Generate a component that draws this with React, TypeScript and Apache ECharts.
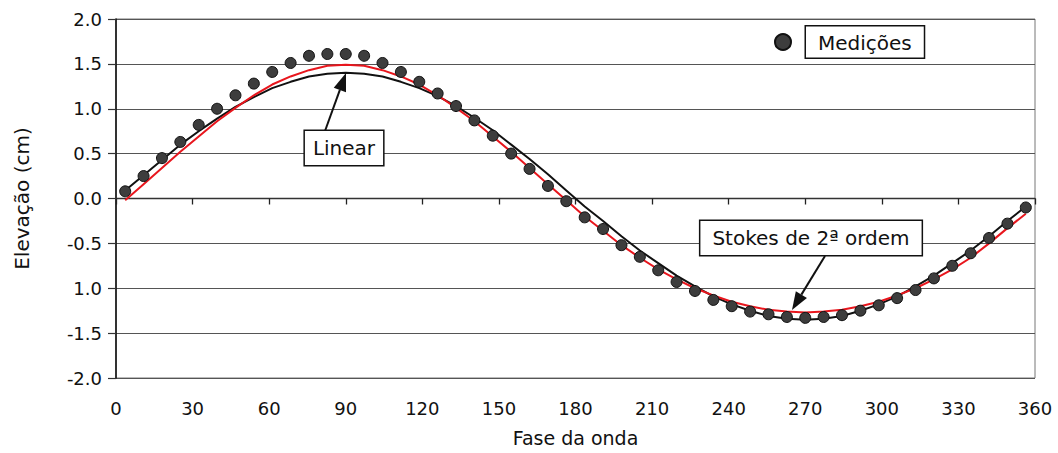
import React, { useEffect, useRef } from 'react';
import * as echarts from 'echarts';

// Wave phase (degrees) of each sample
const phases = [3.6, 10.8, 18, 25.2, 32.4, 39.6, 46.8, 54, 61.2, 68.4, 75.6, 82.8, 90, 97.2, 104.4, 111.6, 118.8, 126, 133.2, 140.4, 147.6, 154.8, 162, 169.2, 176.4, 183.6, 190.8, 198, 205.2, 212.4, 219.6, 226.8, 234, 241.2, 248.4, 255.6, 262.8, 270, 277.2, 284.4, 291.6, 298.8, 306, 313.2, 320.4, 327.6, 334.8, 342, 349.2, 356.4];

// Measured elevation (cm)
const measured = [0.08, 0.25, 0.45, 0.63, 0.82, 1.0, 1.15, 1.28, 1.41, 1.51, 1.59, 1.61, 1.61, 1.59, 1.51, 1.41, 1.3, 1.17, 1.03, 0.87, 0.7, 0.5, 0.33, 0.14, -0.03, -0.21, -0.34, -0.52, -0.65, -0.8, -0.93, -1.03, -1.13, -1.2, -1.26, -1.29, -1.32, -1.33, -1.32, -1.3, -1.25, -1.19, -1.11, -1.02, -0.89, -0.75, -0.61, -0.44, -0.28, -0.1];

// Linear theory (cm)
const linear = [0.09, 0.26, 0.43, 0.6, 0.75, 0.89, 1.02, 1.13, 1.23, 1.3, 1.36, 1.39, 1.4, 1.39, 1.36, 1.3, 1.23, 1.14, 1.03, 0.9, 0.76, 0.6, 0.44, 0.27, 0.09, -0.09, -0.25, -0.42, -0.58, -0.72, -0.86, -0.98, -1.09, -1.18, -1.25, -1.31, -1.34, -1.35, -1.34, -1.31, -1.25, -1.18, -1.09, -0.98, -0.86, -0.72, -0.58, -0.42, -0.25, -0.09];

// Stokes 2nd order (cm)
const stokes = [-0.02, 0.16, 0.34, 0.52, 0.69, 0.86, 1.01, 1.15, 1.27, 1.36, 1.43, 1.48, 1.49, 1.48, 1.43, 1.36, 1.27, 1.15, 1.01, 0.86, 0.69, 0.52, 0.34, 0.16, -0.02, -0.2, -0.36, -0.52, -0.66, -0.79, -0.9, -1.0, -1.08, -1.15, -1.2, -1.24, -1.26, -1.27, -1.26, -1.24, -1.2, -1.15, -1.08, -1.0, -0.9, -0.79, -0.66, -0.5, -0.33, -0.17];

// Y tick labels as printed (bottom to top)
const yTickLabels = ['-2.0', '-1.5', '1.0', '-0.5', '0.0', '0.5', '1.0', '1.5', '2.0'];
const yMin = -2;
const yMax = 2;
const yStep = 0.5;
const xMin = 0;
const xMax = 360;
const xStep = 30;

const FONT = '"DejaVu Sans", "Liberation Sans", Arial, sans-serif';

function arrow(x1: number, y1: number, x2: number, y2: number, headLen = 18, headW = 13) {
  const dx = x2 - x1;
  const dy = y2 - y1;
  const L = Math.hypot(dx, dy);
  const ux = dx / L;
  const uy = dy / L;
  const bx = x2 - ux * headLen;
  const by = y2 - uy * headLen;
  const px = -uy;
  const py = ux;
  return [
    { type: 'line', z: 20, shape: { x1, y1, x2: bx, y2: by }, style: { stroke: '#111', lineWidth: 2 } },
    {
      type: 'polygon', z: 20,
      shape: { points: [[x2, y2], [bx + (px * headW) / 2, by + (py * headW) / 2], [bx - (px * headW) / 2, by - (py * headW) / 2]] },
      style: { fill: '#111' },
    },
  ];
}

function labelBox(text: string, x: number, y: number, padX: number) {
  return {
    type: 'text', z: 30, x, y,
    style: {
      text, fill: '#111', font: `20px ${FONT}`, align: 'center', verticalAlign: 'middle',
      backgroundColor: '#fff', borderColor: '#111', borderWidth: 1.5, padding: [6, padX, 6, padX], lineHeight: 22,
    },
  };
}

export default function App() {
  const ref = useRef<HTMLDivElement>(null);
  useEffect(() => {
    if (!ref.current) return;
    const chart = echarts.init(ref.current, undefined, { renderer: 'svg' });
    const option: any = {
      animation: false,
      backgroundColor: '#fff',
      textStyle: { fontFamily: FONT },
      grid: { left: 116, right: 23, top: 19, bottom: 75, show: true, borderColor: '#777', borderWidth: 1, backgroundColor: 'transparent' },
      legend: {
        data: ['Medições'], left: 774, top: 25, padding: 0, icon: 'circle', itemWidth: 16, itemHeight: 16,
        formatter: '{g|}{t|{name}}',
        textStyle: {
          fontSize: 20, fontFamily: FONT, color: '#111',
          rich: {
            g: { width: 10 },
            t: { fontSize: 20, fontFamily: FONT, color: '#111', borderColor: '#111', borderWidth: 1.5, padding: [6, 12, 5, 12], lineHeight: 22, backgroundColor: '#fff' },
          },
        },
      },
      xAxis: [
        {
          type: 'value', min: xMin, max: xMax, interval: xStep, position: 'bottom',
          name: 'Fase da onda', nameLocation: 'middle', nameGap: 50,
          nameTextStyle: { fontSize: 19, color: '#111', fontFamily: FONT },
          axisLine: { show: false, onZero: false }, axisTick: { show: false },
          axisLabel: { fontSize: 18, color: '#111', margin: 21, fontFamily: FONT },
          splitLine: { show: false },
        },
        {
          type: 'value', min: xMin, max: xMax, interval: xStep, position: 'bottom',
          axisLine: { show: true, onZero: true, lineStyle: { color: '#333', width: 1.3 } },
          axisTick: { show: true, length: 6, lineStyle: { color: '#222', width: 1.3 } },
          axisLabel: { show: false }, splitLine: { show: false },
        },
      ],
      yAxis: {
        type: 'value', min: yMin, max: yMax, interval: yStep,
        name: 'Elevação (cm)', nameLocation: 'middle', nameGap: 84,
        nameTextStyle: { fontSize: 20, color: '#111', fontFamily: FONT },
        axisLine: { show: true, lineStyle: { color: '#111', width: 1.6 } },
        axisTick: { show: true, length: 8, lineStyle: { color: '#333', width: 1.2 } },
        axisLabel: {
          fontSize: 18, color: '#111', margin: 14, fontFamily: FONT,
          formatter: (v: number) => yTickLabels[Math.round((v - yMin) / yStep)],
        },
        splitLine: { show: true, lineStyle: { color: '#555', width: 1.2 } },
      },
      series: [
        {
          name: 'Linear', type: 'line', xAxisIndex: 0, data: phases.map((p, i) => [p, linear[i]]),
          showSymbol: false, symbol: 'none', lineStyle: { color: '#111', width: 2 }, z: 2,
        },
        {
          name: 'Stokes de 2ª ordem', type: 'line', xAxisIndex: 0, data: phases.map((p, i) => [p, stokes[i]]),
          showSymbol: false, symbol: 'none', lineStyle: { color: '#e8161d', width: 2 }, z: 3,
        },
        {
          name: 'Medições', type: 'scatter', xAxisIndex: 0, data: phases.map((p, i) => [p, measured[i]]),
          symbol: 'circle', symbolSize: 11, itemStyle: { color: '#3d3d3d', borderColor: '#111', borderWidth: 1, opacity: 1 }, z: 4,
        },
      ],
      graphic: [
        ...arrow(325, 131, 346, 73),
        ...arrow(825, 256, 792, 310),
        labelBox('Linear', 344, 148, 8),
        labelBox('Stokes de 2ª ordem', 811, 238, 12),
      ],
    };
    chart.setOption(option);
    return () => chart.dispose();
  }, []);
  return <div ref={ref} style={{ position: 'fixed', left: 0, top: 0, width: 1058, height: 453 }} />;
}
